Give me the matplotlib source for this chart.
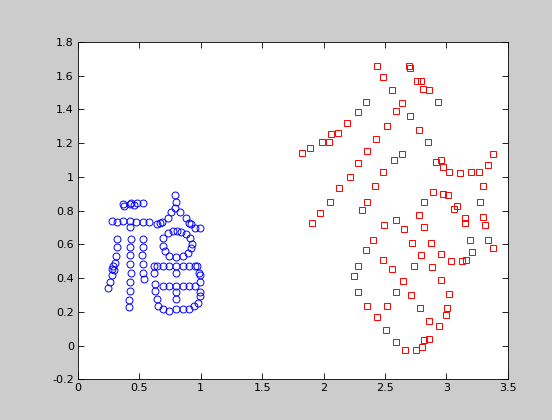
import matplotlib
matplotlib.use('Agg')
import matplotlib.pyplot as plt
import numpy as np

# blue character, drawn stroke by stroke with circle markers
blue_x = [0.365, 0.370, 0.419, 0.434, 0.456, 0.476, 0.525,
          0.276, 0.316, 0.367, 0.419, 0.471, 0.525, 0.577,
          0.316, 0.316, 0.307, 0.301, 0.287, 0.278, 0.290, 0.276, 0.258, 0.241,
          0.425, 0.431, 0.422, 0.422, 0.422, 0.431, 0.422, 0.422, 0.416, 0.416,
          0.531, 0.525, 0.520, 0.525, 0.531, 0.537,
          0.646, 0.666, 0.686, 0.732, 0.761, 0.790, 0.795, 0.790,
          0.830, 0.876, 0.904, 0.916, 0.956, 0.996,
          0.735, 0.771, 0.804, 0.840, 0.880, 0.915, 0.930, 0.922, 0.899, 0.853,
          0.795, 0.744, 0.705, 0.692, 0.692,
          0.617, 0.646, 0.692, 0.744, 0.795, 0.853, 0.904, 0.956, 0.973,
          0.617, 0.623, 0.623, 0.640, 0.652,
          0.692, 0.744, 0.795, 0.853, 0.904, 0.945,
          0.979, 0.991, 0.996, 0.996, 0.991, 0.985,
          0.692, 0.744, 0.795, 0.853, 0.904, 0.956,
          0.801, 0.801, 0.801]
blue_y = [0.841, 0.829, 0.837, 0.845, 0.831, 0.848, 0.845,
          0.740, 0.734, 0.736, 0.740, 0.732, 0.732, 0.732,
          0.633, 0.585, 0.532, 0.488, 0.469, 0.453, 0.445, 0.417, 0.378, 0.342,
          0.702, 0.633, 0.585, 0.534, 0.486, 0.433, 0.378, 0.322, 0.271, 0.227,
          0.633, 0.585, 0.534, 0.486, 0.433, 0.397,
          0.720, 0.726, 0.730, 0.759, 0.793, 0.817, 0.850, 0.892,
          0.793, 0.755, 0.726, 0.722, 0.696, 0.696,
          0.670, 0.680, 0.680, 0.676, 0.660, 0.640, 0.600, 0.578, 0.548, 0.528,
          0.524, 0.532, 0.560, 0.590, 0.637,
          0.473, 0.473, 0.473, 0.473, 0.473, 0.473, 0.473, 0.473, 0.469,
          0.433, 0.364, 0.324, 0.273, 0.237,
          0.217, 0.206, 0.217, 0.217, 0.217, 0.233,
          0.253, 0.293, 0.316, 0.376, 0.419, 0.433,
          0.356, 0.356, 0.356, 0.356, 0.356, 0.356,
          0.433, 0.320, 0.273]

# red character, square markers
red_x = [2.432, 2.486, 2.558, 2.639, 2.593, 2.518, 2.426, 2.357, 2.283, 2.214,
         2.127, 2.053, 1.972, 1.909,
         1.823, 1.886, 1.984, 2.047, 2.059, 2.116, 2.191, 2.283, 2.346,
         2.696, 2.707, 2.759, 2.794, 2.811, 2.857, 2.937, 2.702, 2.782, 2.851,
         2.920, 2.960, 2.972, 3.023, 3.115, 3.201, 3.270, 3.339, 3.379,
         2.639, 2.575, 2.486, 2.420, 2.357, 2.317,
         2.891, 2.977, 3.018, 3.086, 3.063, 3.155, 3.155, 3.276, 3.299, 3.299,
         3.316, 3.339, 3.385, 3.213, 3.161, 3.127, 3.040, 3.196,
         2.817, 2.782, 2.817, 2.874, 2.954, 2.885, 2.954, 3.023, 3.006, 2.995,
         2.943, 2.862, 2.857, 2.817, 2.799, 2.753, 2.667, 2.593, 2.512, 2.432,
         2.351, 2.283, 2.248, 2.283, 2.346, 2.403, 2.489, 2.587, 2.656, 2.719,
         2.794, 2.736, 2.484, 2.558, 2.644, 2.593, 2.713, 2.788, 2.518]
red_y = [1.660, 1.590, 1.513, 1.440, 1.391, 1.301, 1.222, 1.155, 1.082, 1.001,
         0.932, 0.852, 0.785, 0.726,
         1.139, 1.169, 1.208, 1.208, 1.252, 1.262, 1.321, 1.385, 1.444,
         1.660, 1.644, 1.567, 1.567, 1.521, 1.513, 1.444, 1.361, 1.278, 1.208,
         1.086, 1.098, 1.058, 1.032, 1.021, 1.032, 1.028, 1.072, 1.135,
         1.135, 1.098, 1.028, 0.947, 0.852, 0.801,
         0.910, 0.896, 0.892, 0.825, 0.809, 0.755, 0.726, 0.852, 0.945, 0.761,
         0.716, 0.623, 0.579, 0.554, 0.508, 0.504, 0.504, 0.623,
         0.852, 0.775, 0.700, 0.609, 0.540, 0.467, 0.388, 0.304, 0.223, 0.184,
         0.115, 0.144, 0.041, 0.031, -0.008, -0.024, -0.024, 0.018, 0.095, 0.170,
         0.237, 0.320, 0.413, 0.473, 0.566, 0.623, 0.716, 0.746, 0.690, 0.609,
         0.534, 0.473, 0.510, 0.453, 0.384, 0.316, 0.300, 0.223, 0.237]

xticks = [0, 0.5, 1, 1.5, 2, 2.5, 3, 3.5]
xticklabels = ['0', '0.5', '1', '1.5', '2', '2.5', '3', '3.5']
yticks = [-0.2, 0, 0.2, 0.4, 0.6, 0.8, 1, 1.2, 1.4, 1.6, 1.8]
yticklabels = ['-0.2', '0', '0.2', '0.4', '0.6', '0.8', '1', '1.2', '1.4', '1.6', '1.8']

fig = plt.figure(figsize=(5.52, 4.2), dpi=100, facecolor='#cccccc')
ax = fig.add_axes([0.1415, 0.097, 0.778, 0.803])

ax.plot(blue_x, blue_y, 'bo', ms=5, mfc='none', mew=0.7)
ax.plot(red_x, red_y, 'rs', ms=5, mfc='none', mew=0.7)

ax.set_xlim(0, 3.5)
ax.set_ylim(-0.2, 1.8)
ax.set_xticks(xticks)
ax.set_xticklabels(xticklabels)
ax.set_yticks(yticks)
ax.set_yticklabels(yticklabels)
ax.tick_params(direction='in', top=True, right=True, length=4, width=0.6,
               labelsize=8, pad=3)
for s in ax.spines.values():
    s.set_linewidth(0.6)

fig.savefig('out.png', dpi=100, facecolor=fig.get_facecolor())
